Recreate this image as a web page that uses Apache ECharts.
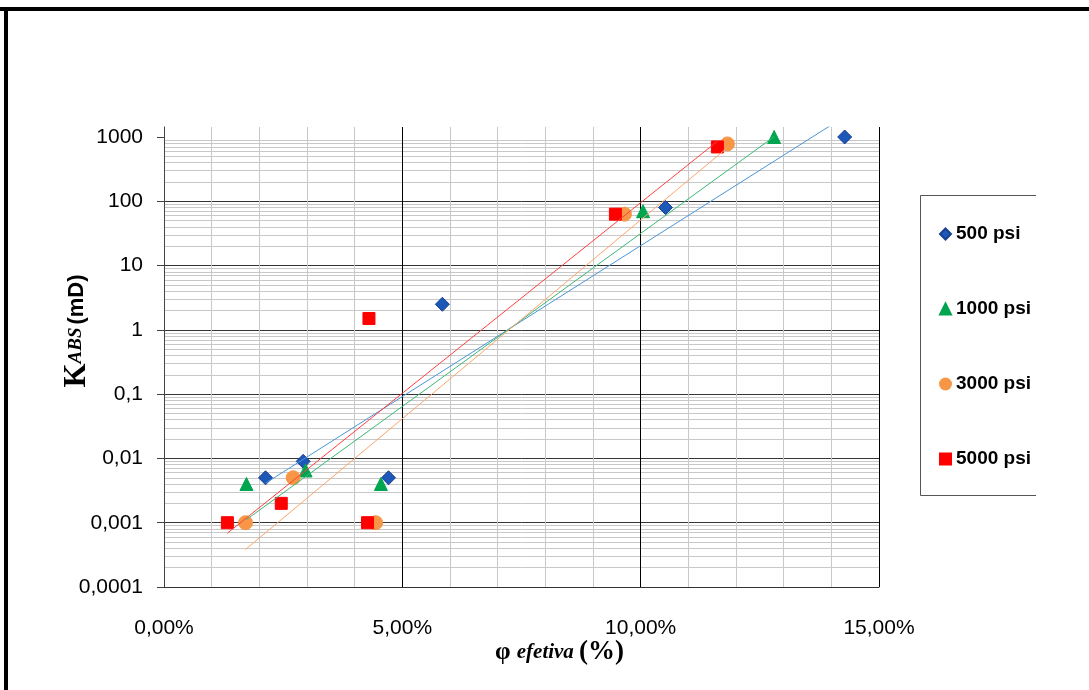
<!DOCTYPE html>
<html>
<head>
<meta charset="utf-8">
<script src="https://cdn.jsdelivr.net/npm/echarts@6/dist/echarts.min.js"></script>
<style>
html,body{margin:0;padding:0;background:#fff;}
#chart{width:1089px;height:690px;}
</style>
</head>
<body>
<div id="chart"></div>
<script>
// ---- data (porosity in %, permeability in mD) ----
const seriesNames = ['500 psi', '1000 psi', '3000 psi', '5000 psi'];
const phi500  = [2.13, 2.92, 4.71, 5.84, 10.52, 14.28];
const k500    = [0.005, 0.009, 0.005, 2.5, 80, 1000];
const phi1000 = [1.73, 2.97, 4.55, 10.05, 12.8];
const k1000   = [0.004, 0.0065, 0.004, 70, 1000];
const phi3000 = [1.71, 2.71, 4.44, 9.66, 11.82];
const k3000   = [0.001, 0.005, 0.001, 63, 780];
const phi5000 = [1.33, 2.46, 4.27, 4.30, 9.47, 11.61];
const k5000   = [0.001, 0.002, 0.001, 1.5, 63, 700];
const xTickLabels = ['0,00%', '5,00%', '10,00%', '15,00%'];
const yTickValues = [0.0001, 0.001, 0.01, 0.1, 1, 10, 100, 1000];
const yTickLabels = ['0,0001', '0,001', '0,01', '0,1', '1', '10', '100', '1000'];

// exponential (Excel-style) trendline: least squares of ln(k) on phi
function expTrend(xs, ys) {
  const n = xs.length;
  const ly = ys.map(v => Math.log(v));
  const mx = xs.reduce((a, b) => a + b, 0) / n;
  const my = ly.reduce((a, b) => a + b, 0) / n;
  let sxy = 0, sxx = 0;
  for (let i = 0; i < n; i++) { sxy += (xs[i] - mx) * (ly[i] - my); sxx += (xs[i] - mx) * (xs[i] - mx); }
  const b = sxy / sxx, a = my - b * mx;
  const x0 = Math.min(...xs), x1 = Math.max(...xs);
  return [[x0, Math.exp(a + b * x0)], [x1, Math.exp(a + b * x1)]];
}
const zip = (xs, ys) => xs.map((x, i) => [x, ys[i]]);

const sets = [
  {name: seriesNames[0], x: phi500,  y: k500,  symbol: 'diamond',  size: 14, color: '#1d57b7', border: '#17408f', line: '#4a95d8'},
  {name: seriesNames[1], x: phi1000, y: k1000, symbol: 'triangle', size: 13, color: '#00a550', border: '#00a550', line: '#3cb878'},
  {name: seriesNames[2], x: phi3000, y: k3000, symbol: 'circle',   size: 14, color: '#f79646', border: '#f79646', line: '#f9a66c'},
  {name: seriesNames[3], x: phi5000, y: k5000, symbol: 'rect',     size: 12, color: '#ff0000', border: '#ff0000', line: '#ff4040'}
];

const series = [];
sets.forEach((s) => {
  series.push({
    name: s.name, type: 'scatter', symbol: s.symbol, symbolSize: s.size,
    data: zip(s.x, s.y), z: 3,
    itemStyle: {color: s.color, borderColor: s.border, borderWidth: 1, opacity: 1}
  });
});
sets.forEach((s) => {
  series.push({
    name: 'trend ' + s.name, type: 'line', data: expTrend(s.x, s.y), showSymbol: false, symbol: 'none',
    lineStyle: {color: s.line, width: 1}, z: 4, silent: true, clip: true
  });
});

const chart = echarts.init(document.getElementById('chart'), null, {renderer: 'canvas'});
chart.setOption({
  animation: false,
  backgroundColor: '#fff',
  grid: {left: 164, right: 210, top: 127, bottom: 103, containLabel: false},
  xAxis: {
    type: 'value', min: 0, max: 15, interval: 5,
    axisLine: {show: true, onZero: false, lineStyle: {color: '#333', width: 1}},
    axisTick: {show: false},
    axisLabel: {formatter: v => xTickLabels[Math.round(v / 5)], fontSize: 21, color: '#000', fontFamily: 'Liberation Sans', margin: 31},
    splitLine: {show: true, lineStyle: {color: '#000', width: 1}},
    minorTick: {show: false, splitNumber: 5},
    minorSplitLine: {show: true, lineStyle: {color: '#c8c8c8', width: 1}},
    name: '{phi|φ }{ef|efetiva }{pc|(%)}',
    nameLocation: 'middle', nameGap: 52, nameMoveOverlap: false,
    nameTextStyle: {
      padding: [0, 0, 0, 76],
      rich: {
        phi: {fontFamily: 'Liberation Serif', fontWeight: 'bold', fontSize: 25, color: '#000'},
        ef: {fontFamily: 'Liberation Serif', fontWeight: 'bold', fontStyle: 'italic', fontSize: 21, color: '#000'},
        pc: {fontFamily: 'Liberation Serif', fontWeight: 'bold', fontSize: 27, color: '#000'}
      }
    }
  },
  yAxis: {
    type: 'log', logBase: 10, min: 0.0001, max: 1430,
    axisLine: {show: true, onZero: false, lineStyle: {color: '#444', width: 1}},
    axisTick: {show: true, inside: false, length: 7, customValues: yTickValues, lineStyle: {color: '#444'}},
    axisLabel: {
      customValues: yTickValues,
      formatter: v => yTickLabels[Math.round(Math.log10(v)) + 4],
      fontSize: 21, color: '#000', fontFamily: 'Liberation Sans', margin: 21
    },
    splitLine: {show: true, showMaxLine: false, lineStyle: {color: '#333', width: 1}},
    minorTick: {show: false, splitNumber: 9},
    minorSplitLine: {show: true, lineStyle: {color: '#c8c8c8', width: 1}},
    name: '{k|K}{abs|ABS}{md|(mD)}',
    nameLocation: 'middle', nameGap: 72, nameRotate: 90, nameMoveOverlap: false,
    nameTextStyle: {
      padding: [0, 0, 0, 52],
      rich: {
        k: {fontFamily: 'Liberation Serif', fontWeight: 'bold', fontSize: 31, color: '#000'},
        abs: {fontFamily: 'Liberation Serif', fontWeight: 'bold', fontStyle: 'italic', fontSize: 19, color: '#000'},
        md: {fontFamily: 'Liberation Sans', fontWeight: 'bold', fontSize: 22, color: '#000', padding: [0, 0, 0, 3]}
      }
    }
  },
  legend: {
    orient: 'vertical', left: 934, top: 219, itemWidth: 11, itemHeight: 11, itemGap: 55,
    data: seriesNames, selectedMode: false,
    textStyle: {fontSize: 19, fontWeight: 'bold', color: '#000', fontFamily: 'Liberation Sans', lineHeight: 20}
  },
  graphic: [
    {type: 'polyline', silent: true, z: 10, shape: {points: [[1036, 195.5], [920.5, 195.5], [920.5, 495.5], [1036, 495.5]]},
     style: {stroke: '#555', lineWidth: 1, fill: null}},
    {type: 'line', silent: true, z: 10, shape: {x1: 0, y1: 9, x2: 1089, y2: 9}, style: {stroke: '#000', lineWidth: 4}},
    {type: 'line', silent: true, z: 10, shape: {x1: 6, y1: 7, x2: 6, y2: 690}, style: {stroke: '#000', lineWidth: 4}}
  ],
  series: series
});
</script>
</body>
</html>
